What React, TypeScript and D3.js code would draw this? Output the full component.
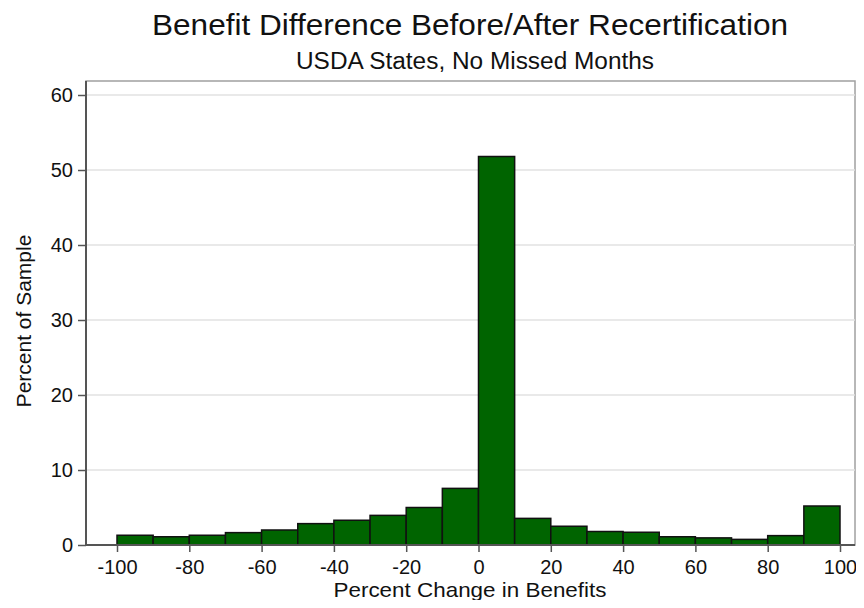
import React, { useEffect, useRef } from "react";
import * as d3 from "d3";

// histogram bins (left edge, width 10) and percent of sample
const binStarts = [-100, -90, -80, -70, -60, -50, -40, -30, -20, -10, 0, 10, 20, 30, 40, 50, 60, 70, 80, 90];
const percents = [1.3, 1.1, 1.3, 1.65, 2.0, 2.85, 3.3, 3.95, 5.0, 7.55, 51.8, 3.55, 2.5, 1.8, 1.7, 1.1, 0.95, 0.75, 1.25, 5.2];
const xTicks = [-100, -80, -60, -40, -20, 0, 20, 40, 60, 80, 100];
const yTicks = [0, 10, 20, 30, 40, 50, 60];

const App: React.FC = () => {
  const ref = useRef<SVGSVGElement>(null);

  useEffect(() => {
    const svg = d3.select(ref.current);
    svg.selectAll("*").remove();

    const left = 86, right = 855, top = 81, bottom = 545;
    const font = "'Liberation Sans', Arial, sans-serif";

    const x = d3.scaleLinear().domain([-100, 100]).range([117, 840]);
    const y = d3.scaleLinear().domain([0, 60]).range([545, 95]);

    svg.append("rect").attr("width", 864).attr("height", 608).attr("fill", "#fff");

    // frame (top/right lighter)
    svg.append("rect")
      .attr("x", left).attr("y", top)
      .attr("width", right - left).attr("height", bottom - top)
      .attr("fill", "none").attr("stroke", "#a0a0a0").attr("stroke-width", 1.5);

    // gridlines
    svg.append("g")
      .selectAll("line")
      .data(yTicks.filter((d) => d > 0))
      .enter()
      .append("line")
      .attr("x1", left).attr("x2", right)
      .attr("y1", (d) => y(d)).attr("y2", (d) => y(d))
      .attr("stroke", "#e2e2e2").attr("stroke-width", 1.5);

    // bars
    svg.append("g")
      .selectAll("rect")
      .data(binStarts.map((b, i) => ({ b, v: percents[i] })))
      .enter()
      .append("rect")
      .attr("x", (d) => x(d.b))
      .attr("y", (d) => y(d.v))
      .attr("width", (d) => x(d.b + 10) - x(d.b))
      .attr("height", (d) => y(0) - y(d.v))
      .attr("fill", "#006400")
      .attr("stroke", "#111")
      .attr("stroke-width", 1.5);

    // axes
    const yAxis = svg.append("g")
      .attr("transform", `translate(${left},0)`)
      .call(d3.axisLeft(y).tickValues(yTicks).tickSize(8).tickPadding(5).tickSizeOuter(0));
    yAxis.select(".domain").attr("d", `M0,${top}V${bottom}`).attr("stroke", "#555").attr("stroke-width", 2);

    const xAxis = svg.append("g")
      .attr("transform", `translate(0,${bottom})`)
      .call(
        d3.axisBottom(x).tickValues(xTicks).tickFormat((d) => String(d))
          .tickSize(7).tickPadding(8).tickSizeOuter(0)
      );
    xAxis.select(".domain").attr("d", `M${left},0H${right}`).attr("stroke", "#555").attr("stroke-width", 2);

    [yAxis, xAxis].forEach((g) => {
      g.selectAll(".tick line").attr("stroke", "#555").attr("stroke-width", 1.5);
      g.selectAll(".tick text")
        .attr("fill", "#111")
        .style("font-family", font)
        .style("font-size", "20px");
    });

    // titles
    svg.append("text")
      .attr("x", 470).attr("y", 35)
      .attr("text-anchor", "middle")
      .attr("textLength", 636).attr("lengthAdjust", "spacingAndGlyphs")
      .style("font-family", font).style("font-size", "30px").attr("fill", "#111")
      .text("Benefit Difference Before/After Recertification");

    svg.append("text")
      .attr("x", 475).attr("y", 69)
      .attr("text-anchor", "middle")
      .attr("textLength", 358).attr("lengthAdjust", "spacingAndGlyphs")
      .style("font-family", font).style("font-size", "23px").attr("fill", "#111")
      .text("USDA States, No Missed Months");

    svg.append("text")
      .attr("x", 470).attr("y", 597)
      .attr("text-anchor", "middle")
      .attr("textLength", 273).attr("lengthAdjust", "spacingAndGlyphs")
      .style("font-family", font).style("font-size", "21px").attr("fill", "#111")
      .text("Percent Change in Benefits");

    svg.append("text")
      .attr("transform", `translate(31,321) rotate(-90)`)
      .attr("text-anchor", "middle")
      .style("font-family", font).style("font-size", "21px").attr("fill", "#111")
      .text("Percent of Sample");
  }, []);

  return (
    <div style={{ margin: -8 }}>
      <svg ref={ref} width={864} height={608} style={{ display: "block" }} />
    </div>
  );
};

export default App;
